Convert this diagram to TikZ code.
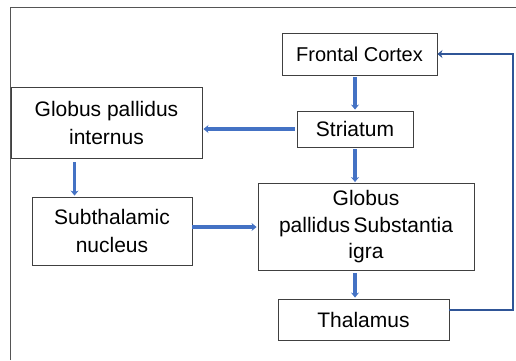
\documentclass[tikz,border=0pt]{standalone}
\usepackage{fontspec}
\setmainfont{Liberation Sans}
\usepackage{xcolor}
\usepackage{tikz}
\usetikzlibrary{arrows.meta, positioning, calc}
\definecolor{flowblue}{HTML}{4472C4}
\definecolor{loopblue}{HTML}{2F5597}
\definecolor{boxline}{HTML}{404040}
\definecolor{frameline}{HTML}{555555}

\begin{document}
\begin{tikzpicture}[
    x=1pt, y=-1pt,
    >={Stealth[length=5pt, width=8pt]},
    region/.style={draw=boxline, line width=0.9pt, fill=white, align=center, inner sep=0pt,
        minimum width=#1, font=\fontsize{21}{28}\selectfont},
    flow/.style={->, line width=3.5pt, flowblue, shorten <=2pt, shorten >=1pt},
    loopback/.style={->, line width=2pt, loopblue},
]
    \useasboundingbox (0, 0) rectangle (516, 360);

    % Frame
    \draw[frameline, line width=0.8pt] (10, 360) -- (10, 7) -- (516, 7);

    % Boxes
    \node[region=155pt, minimum height=42pt, font=\fontsize{20}{28}\selectfont] (cortex) at (359.5, 54) {Frontal Cortex};
    \node[region=191pt, minimum height=71pt] (gpi) at (106.5, 122.5) {Globus pallidus\\internus};
    \node[region=116pt, minimum height=36pt] (striatum) at (355, 129) {Striatum};
    \node[region=216pt, minimum height=87pt, font=\fontsize{21}{26.5}\selectfont] (gpsn) at (366, 227) {Globus\\pallidus\,Substantia\\igra};
    \node[region=160pt, minimum height=68pt] (stn) at (112, 231) {Subthalamic\\nucleus};
    \node[region=171pt, minimum height=41pt] (thalamus) at (363.5, 319.5) {Thalamus};

    % Arrows
    \coordinate (drop) at ($(gpi.south west)+(64, 0)$);
    \draw[flow] (cortex.south -| striatum.north) -- (striatum.north);
    \draw[flow] (striatum.west) -- (striatum.west -| gpi.east);
    \draw[flow] (striatum.south) -- (striatum.south |- gpsn.north);
    \draw[flow, shorten <=4pt] (drop) -- (drop |- stn.north);
    \draw[flow, shorten <=0pt] (stn.east |- gpsn.west) -- (gpsn.west);
    \draw[flow] (gpsn.south -| striatum.south) -- (thalamus.north -| striatum.south);

    % Feedback loop
    \draw[loopback] ([yshift=9.5pt]thalamus.east) -- ++(64, 0) |- (cortex.east);
\end{tikzpicture}
\end{document}
